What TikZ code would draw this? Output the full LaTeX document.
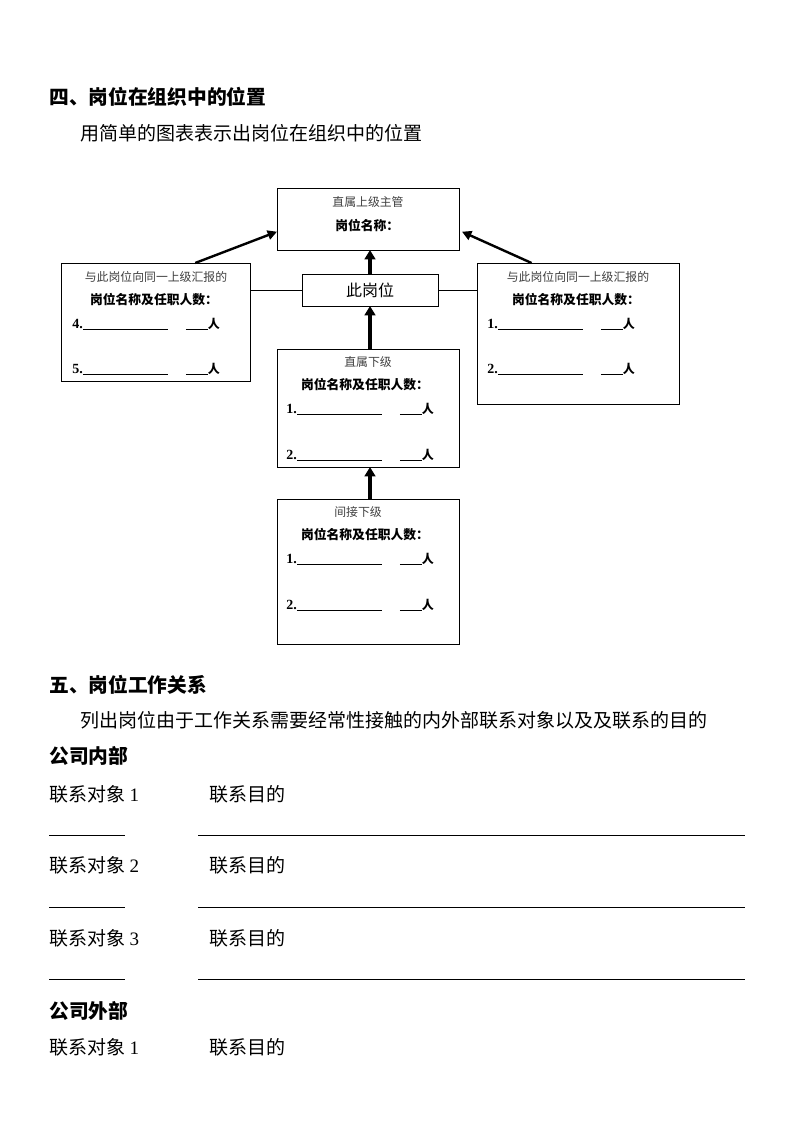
\documentclass[tikz,border=0pt]{standalone}
\usepackage{fontspec}
\setmainfont{Noto Sans CJK SC}
\newfontfamily\lat{Liberation Serif}
\usetikzlibrary{arrows.meta,calc}
\newcommand\blankrow[1]{{\lat\bfseries\fontsize{10.5pt}{12pt}\selectfont #1}\rule[-1.5pt]{63.75pt}{0.6pt}\hspace{13.5pt}\rule[-1.5pt]{16.5pt}{0.6pt}人}
\newcommand\shortline{\rule{57pt}{0.7pt}}
\newcommand\longline{\rule{410pt}{0.7pt}}
\begin{document}
\begin{tikzpicture}[x=0.75pt,y=-0.75pt,
 box/.style={draw,line width=0.75pt,inner sep=0,outer sep=0},
 txt/.style={inner sep=0,anchor=west,font=\fontsize{14.25pt}{16pt}\selectfont},
 head/.style={inner sep=0,anchor=west,font=\fontsize{14.8pt}{16pt}\selectfont\bfseries},
 small/.style={inner sep=0,font=\fontsize{8.9pt}{10pt}\selectfont,text=black!75},
 smallb/.style={inner sep=0,font=\fontsize{9.6pt}{10pt}\selectfont\bfseries},
 rowtxt/.style={inner sep=0,anchor=west,font=\fontsize{9pt}{10pt}\selectfont\bfseries},
 rule/.style={inner sep=0,anchor=south west},
 arr/.style={line width=2.4pt,-{Triangle[width=8pt,length=7pt]}},
 darr/.style={line width=1.8pt,-{Triangle[width=7pt,length=7pt]}},
 conn/.style={line width=0.75pt}]
\useasboundingbox[fill=white] (0,0) rectangle (794,1123);

% headings
\node[head] (h4) at (49,97) {四、岗位在组织中的位置};
\node[txt] (d4) at (80,133) {用简单的图表表示出岗位在组织中的位置};

% boxes
\node[box,minimum width=136.5pt,minimum height=45.75pt] (top) at (368,219.5) {};
\node[box,minimum width=102pt,minimum height=24pt,font=\fontsize{12pt}{14pt}\selectfont] (this) at (370,290) {此岗位};
\node[box,minimum width=141.75pt,minimum height=88.5pt] (left) at (155.5,322) {};
\node[box,minimum width=151.5pt,minimum height=105.75pt] (right) at (578,333.5) {};
\node[box,minimum width=136.5pt,minimum height=88.5pt] (sub) at (368,408) {};
\node[box,minimum width=136.5pt,minimum height=108.75pt] (ind) at (368,571.5) {};

% top box text
\node[small] (topT) at (368,202) {直属上级主管};
\node[smallb,anchor=west] (topN) at (335,226) {岗位名称：};

% left box text
\node[small] (leftT) at (156,277) {与此岗位向同一上级汇报的};
\node[smallb] (leftN) at (154,300) {岗位名称及任职人数：};
\node[rowtxt] (leftA) at (72,324) {\blankrow{4.}};
\node[rowtxt] (leftB) at (72,369) {\blankrow{5.}};

% right box text
\node[small] (rightT) at (578,277) {与此岗位向同一上级汇报的};
\node[smallb] (rightN) at (576,300) {岗位名称及任职人数：};
\node[rowtxt] (rightA) at (487,324) {\blankrow{1.}};
\node[rowtxt] (rightB) at (487,369) {\blankrow{2.}};

% sub box text
\node[small] (subT) at (368,362) {直属下级};
\node[smallb] (subN) at (365,385) {岗位名称及任职人数：};
\node[rowtxt] (subA) at (286,409) {\blankrow{1.}};
\node[rowtxt] (subB) at (286,455) {\blankrow{2.}};

% indirect box text
\node[small] (indT) at (358,512) {间接下级};
\node[smallb] (indN) at (365,535) {岗位名称及任职人数：};
\node[rowtxt] (indA) at (286,559) {\blankrow{1.}};
\node[rowtxt] (indB) at (286,605) {\blankrow{2.}};

% connectors
\draw[conn] (this.west) -- (this.west -| left.east);
\draw[conn] (this.east) -- (this.east -| right.west);
\draw[arr] (this.north) -- (this.north |- top.south);
\draw[arr] (this.south |- sub.north) -- (this.south);
\draw[arr] (this.south |- ind.north) -- (this.south |- sub.south);
\draw[darr] ($(left.north west)!0.71!(left.north east)$) -- ($(top.south west)!0.3!(top.north west)$);
\draw[darr] ($(right.north west)!0.27!(right.north east)$) -- ($(top.south east)!0.3!(top.north east)+(3,0)$);

% section five
\node[head] (h5) at (49,685) {五、岗位工作关系};
\node[txt] (d5) at (80,720) {列出岗位由于工作关系需要经常性接触的内外部联系对象以及及联系的目的};
\node[head] (inner) at (49,756) {公司内部};

\node[txt] (o1) at (49,794) {联系对象 {\lat 1}};
\node[txt] (p1) at (209,794) {联系目的};
\node[rule] (s1) at (49,836) {\shortline};
\node[rule] (l1) at (198,836) {\longline};

\node[txt] (o2) at (49,865) {联系对象 {\lat 2}};
\node[txt] (p2) at (209,865) {联系目的};
\node[rule] (s2) at (49,908) {\shortline};
\node[rule] (l2) at (198,908) {\longline};

\node[txt] (o3) at (49,938) {联系对象 {\lat 3}};
\node[txt] (p3) at (209,938) {联系目的};
\node[rule] (s3) at (49,980) {\shortline};
\node[rule] (l3) at (198,980) {\longline};

\node[head] (outer) at (49,1011) {公司外部};
\node[txt] (o4) at (49,1047) {联系对象 {\lat 1}};
\node[txt] (p4) at (209,1047) {联系目的};
\end{tikzpicture}
\end{document}
